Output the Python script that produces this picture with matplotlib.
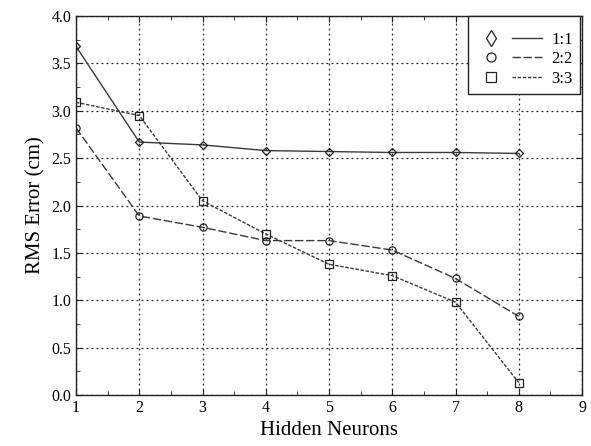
import matplotlib
matplotlib.use("Agg")
import matplotlib.pyplot as plt
from matplotlib.ticker import MultipleLocator, FormatStrFormatter
from matplotlib.lines import Line2D
from matplotlib.legend_handler import HandlerTuple

plt.rcParams['font.family'] = ['Liberation Serif', 'DejaVu Serif']

neurons = [1, 2, 3, 4, 5, 6, 7, 8]
err_11 = [3.68, 2.67, 2.64, 2.58, 2.57, 2.56, 2.56, 2.55]
err_22 = [2.82, 1.89, 1.77, 1.63, 1.63, 1.53, 1.23, 0.83]
err_33 = [3.09, 2.95, 2.05, 1.70, 1.38, 1.26, 0.98, 0.13]
labels = ['1:1', '2:2', '3:3']

fig = plt.figure(figsize=(5.91, 4.46), dpi=100)
ax = fig.add_axes([0.1286, 0.1143, 0.8562, 0.8497])

col = '#3a3a3a'
mec = '#222222'
ls11 = '-'
ls22 = (0, (6, 2))
ls33 = (0, (2.5, 1.2))
ax.plot(neurons, err_11, color=col, lw=1.0, ls=ls11, marker='D', ms=4.2, mfc='none', mec=mec, mew=0.9)
ax.plot(neurons, err_22, color=col, lw=1.0, ls=ls22, marker='o', ms=5.2, mfc='none', mec=mec, mew=0.9)
ax.plot(neurons, err_33, color=col, lw=1.0, ls=ls33, marker='s', ms=5.2, mfc='none', mec=mec, mew=0.9)

ax.set_xlim(1, 9)
ax.set_ylim(0, 4.0)
ax.xaxis.set_major_locator(MultipleLocator(1))
ax.xaxis.set_minor_locator(MultipleLocator(0.5))
ax.yaxis.set_major_locator(MultipleLocator(0.5))
ax.yaxis.set_minor_locator(MultipleLocator(0.25))
ax.yaxis.set_major_formatter(FormatStrFormatter('%.1f'))
ax.tick_params(which='both', direction='in', top=True, right=True, labelsize=11.5, color='#222222')
ax.tick_params(which='major', length=4)
ax.tick_params(which='minor', length=3)
ax.grid(True, which='major', color='#222222', ls=(0, (1.5, 2.5)), lw=0.9)
for s in ax.spines.values():
    s.set_color('#222222')
    s.set_linewidth(1.0)

ax.set_xlabel('Hidden Neurons', fontsize=15)
ax.set_ylabel('RMS Error (cm)', fontsize=15)

def mk(m, ms):
    return Line2D([], [], ls='none', marker=m, ms=ms, mfc='none', mec=mec, mew=0.9)

def ln(ls):
    return Line2D([], [], color=col, lw=1.0, ls=ls)

handles = [(mk('d', 8.5), ln(ls11)), (mk('o', 6.5), ln(ls22)), (mk('s', 7), ln(ls33))]
leg = ax.legend(handles, labels, handler_map={tuple: HandlerTuple(ndivide=None, pad=0.35)},
                loc='upper right', bbox_to_anchor=(0.997, 1.0), borderaxespad=0, fancybox=False,
                edgecolor='#222222', fontsize=12, handlelength=4.0, handletextpad=0.55,
                borderpad=0.45, labelspacing=0.2, framealpha=1,
                title=' ', title_fontsize=5)
leg.get_frame().set_linewidth(1.0)

fig.savefig('out.png', dpi=100)
